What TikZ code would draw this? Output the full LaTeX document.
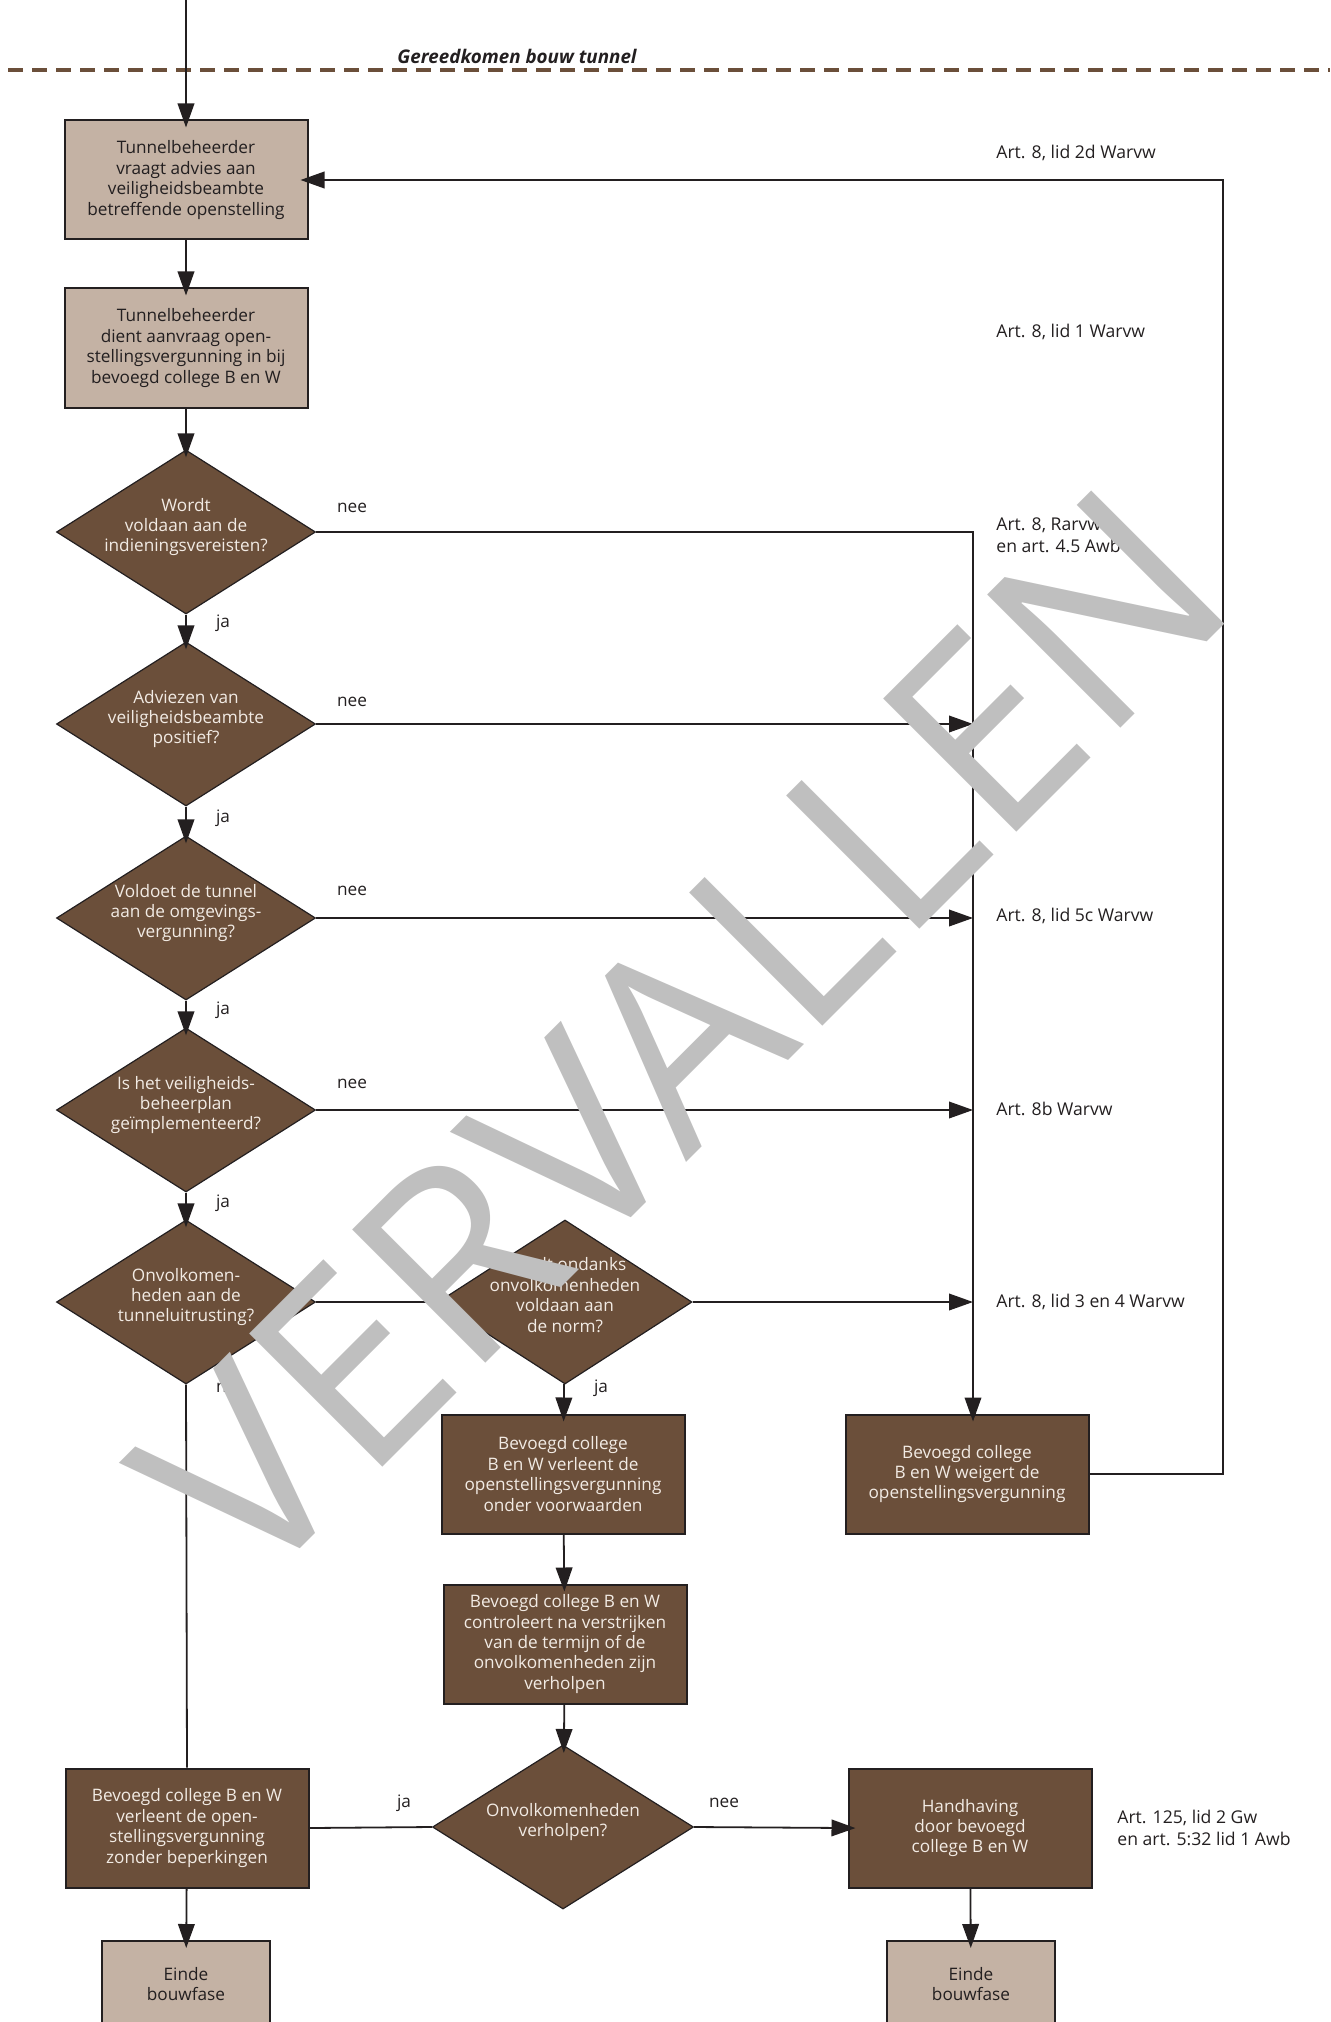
\documentclass[tikz,border=0pt]{standalone}
\usepackage{fontspec}
\setmainfont{Open Sans}
\usetikzlibrary{shapes.geometric,arrows.meta}
\definecolor{brn}{HTML}{6B4F3A}
\definecolor{tau}{HTML}{C4B2A4}
\definecolor{wmk}{HTML}{BFBFBF}
\definecolor{ink}{HTML}{231F20}
\definecolor{ltx}{HTML}{F2EBE4}
\newcommand\dtx[1]{\smash{\makebox[0pt]{\begin{tabular}{@{}c@{}}#1\end{tabular}}}}
\begin{document}
\begin{tikzpicture}[x=0.5pt,y=-0.5pt,
  font=\fontsize{8.6}{10.2}\selectfont,
  box/.style={rectangle, draw=ink, line width=1pt, fill=brn, text=ltx, align=center,
    minimum width=121.5pt, minimum height=59.5pt, inner sep=0pt},
  lbox/.style={box, fill=tau, text=ink},
  dia/.style={diamond, draw=ink, line width=0.6pt, fill=brn, text=ltx,
    minimum width=129.5pt, minimum height=82pt, inner sep=0pt},
  arr/.style={-{Triangle[length=12pt,width=8.3pt]}, line width=0.9pt, draw=ink, shorten >=-4pt},
  arrl/.style={-{Triangle[length=12pt,width=8.3pt]}, line width=0.9pt, draw=ink},
  ln/.style={line width=0.9pt, draw=ink},
  lbl/.style={inner sep=0pt, text=ink},
  art/.style={inner sep=0pt, text=ink, anchor=west, align=left,
    font=\fontsize{8.8}{11}\selectfont}]
\clip (0,0) rectangle (1330,2022);
\useasboundingbox (0,0) rectangle (1330,2022);

% milestone line
\draw[brn, line width=2.2pt, dash pattern=on 7.35pt off 4.65pt] (8,70) -- (1330,70);
\node[lbl, font=\fontsize{9.4}{10}\selectfont\bfseries\itshape] (hd) at (517,56) {Gereedkomen bouw tunnel};

% boxes
\node[lbox] (b1) at (186,180) {Tunnelbeheerder\\vraagt advies aan\\veiligheidsbeambte\\betreffende openstelling};
\node[lbox] (b2) at (186,348) {Tunnelbeheerder\\dient aanvraag open-\\stellingsvergunning in bij\\bevoegd college B en W};

% decisions
\node[dia] (d1) at (186,532) {\dtx{Wordt\\voldaan aan de\\indieningsvereisten?}};
\node[dia] (d2) at (186,724) {\dtx{Adviezen van\\veiligheidsbeambte\\positief?}};
\node[dia] (d3) at (186,918) {\dtx{Voldoet de tunnel\\aan de omgevings-\\vergunning?}};
\node[dia] (d4) at (186,1110) {\dtx{Is het veiligheids-\\beheerplan\\geïmplementeerd?}};
\node[dia] (d5) at (186,1302) {\dtx{Onvolkomen-\\heden aan de\\tunneluitrusting?}};
\node[dia, minimum width=127pt] (d6) at (565,1302) {\dtx{Wordt ondanks\\onvolkomenheden\\voldaan aan\\de norm?}};

\node[box] (vw) at (563,1474) {Bevoegd college\\B en W verleent de\\openstellingsvergunning\\onder voorwaarden};
\node[box] (ct) at (565,1644) {Bevoegd college B en W\\controleert na verstrijken\\van de termijn of de\\onvolkomenheden zijn\\verholpen};
\node[box] (wg) at (967,1474) {Bevoegd college\\B en W weigert de\\openstellingsvergunning};

\node[dia, minimum width=130.5pt] (d7) at (563,1827) {\dtx{Onvolkomenheden\\verholpen?}};
\node[box] (zb) at (187,1828) {Bevoegd college B en W\\verleent de open-\\stellingsvergunning\\zonder beperkingen};
\node[box] (hh) at (970,1828) {Handhaving\\door bevoegd\\college B en W};

\node[lbox, minimum width=84pt, minimum height=43pt] (e1) at (186,1984) {Einde\\bouwfase};
\node[lbox, minimum width=84pt, minimum height=43pt] (e2) at (971,1984) {Einde\\bouwfase};

% coordinates
\coordinate (top) at (186,0);
\coordinate (c1) at (973,532);
\coordinate (rr) at (1223,1474);

% main column
\draw[arr] (top) -- (b1.north);
\draw[arr] (b1) -- (b2);
\draw[arr] (b2) -- (d1);
\draw[arr] (d1) -- (d2);
\draw[arr] (d2) -- (d3);
\draw[arr] (d3) -- (d4);
\draw[arr] (d4) -- (d5);
\draw[ln] (d5.east) -- (d6.west);
\draw[ln] (d5.south) -- (zb.north);
\draw[arr] (d6) -- (vw);
\draw[arr] (vw) -- (ct);
\draw[arr] (ct) -- (d7);
\draw[ln] (d7.west) -- (zb.east);
\draw[arr] (d7.east) -- (hh.west);
\draw[arr] (zb) -- (e1);
\draw[arr] (hh) -- (e2);

% collector
\draw[arr] (d1.east) -- (c1) -- (c1 |- wg.north);
\draw[arrl] (d2.east) -- (c1 |- d2.east);
\draw[arrl] (d3.east) -- (c1 |- d3.east);
\draw[arrl] (d4.east) -- (c1 |- d4.east);
\draw[arrl] (d6.east) -- (c1 |- d6.east);

% feedback
\draw[arr] (wg.east) -- (rr) -- (rr |- b1.east) -- (b1.east);

% ja / nee labels
\node[lbl] (n1) at (352,508) {nee};
\node[lbl] (n2) at (352,702) {nee};
\node[lbl] (n3) at (352,891) {nee};
\node[lbl] (n4) at (352,1084) {nee};
\node[lbl] (j1) at (223,623) {ja};
\node[lbl] (j2) at (223,818) {ja};
\node[lbl] (j3) at (223,1010) {ja};
\node[lbl] (j4) at (223,1203) {ja};
\node[lbl] (n5) at (231,1388) {nee};
\node[lbl] (j5) at (601,1388) {ja};
\node[lbl] (j6) at (404,1803) {ja};
\node[lbl] (n6) at (724,1803) {nee};

% article references
\node[art] (a1) at (996,153) {Art. 8, lid 2d Warvw};
\node[art] (a2) at (996,332) {Art. 8, lid 1 Warvw};
\node[art] (a3) at (996,535) {Art. 8, Rarvw\\en art. 4.5 Awb};
\node[art] (a4) at (996,916) {Art. 8, lid 5c Warvw};
\node[art] (a5) at (996,1109) {Art. 8b Warvw};
\node[art] (a6) at (996,1302) {Art. 8, lid 3 en 4 Warvw};
\node[art] (a7) at (1117,1828) {Art. 125, lid 2 Gw\\en art. 5:32 lid 1 Awb};

% watermark
\node[inner sep=0pt, text=wmk, anchor=base, rotate=45] (wm) at (748,1101)
  {\resizebox{700pt}{!}{VERVALLEN}};
\end{tikzpicture}
\end{document}
